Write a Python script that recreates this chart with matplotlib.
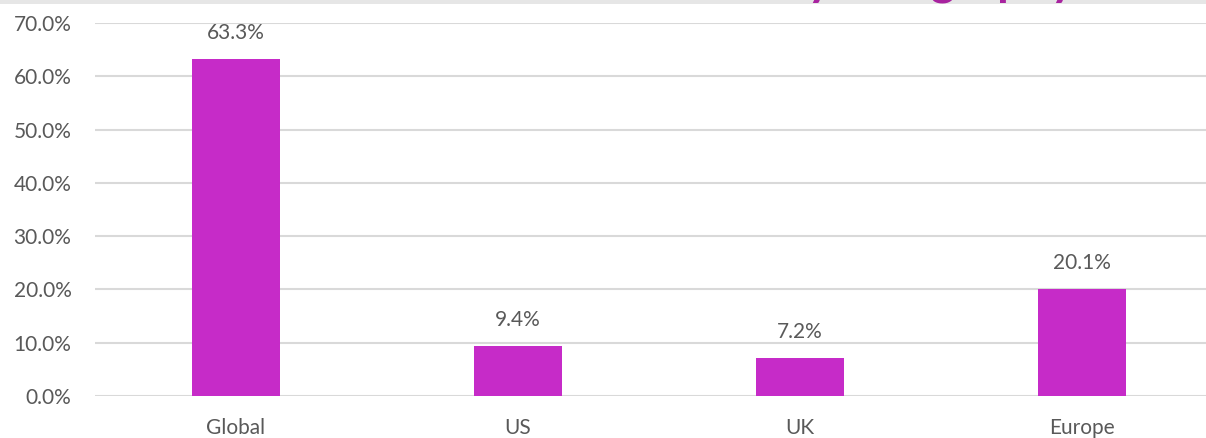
import matplotlib
matplotlib.use("Agg")
import matplotlib.pyplot as plt
from matplotlib.patches import Rectangle

categories = ["Global", "US", "UK", "Europe"]
values = [63.3, 9.4, 7.2, 20.1]
yticks = [0, 10, 20, 30, 40, 50, 60, 70]
title = "Allocation by Geography"

W, H = 1206, 438
fig = plt.figure(figsize=(W / 100, H / 100), dpi=100)
plt.rcParams['font.family'] = ['Lato', 'DejaVu Sans']

# top banner band with cropped title
fig.patches.append(Rectangle((0, 1 - 4 / H), 1, 4 / H, transform=fig.transFigure,
                             facecolor="#e6e6e6", edgecolor="none", zorder=0))
fig.text(1076 / W, 1 + 5.5 / H, title, ha="right", va="baseline", fontsize=34,
         color="#a8239f", fontweight="bold")

left, right = 95, 1223
bottom, top = 396, 23
ax = fig.add_axes([left / W, 1 - bottom / H, (right - left) / W, (bottom - top) / H])

bar_color = "#c62bc8"
x = range(len(categories))
bars = ax.bar(x, values, width=0.312, color=bar_color, zorder=3)

ax.set_xlim(-0.5, len(categories) - 0.5)
ax.set_ylim(0, 70)
ax.set_yticks(yticks)
ax.set_yticklabels([f"{v:.1f}%" for v in yticks])
ax.set_xticks(list(x))
ax.set_xticklabels(categories)

for s in ax.spines.values():
    s.set_visible(False)
ax.grid(axis="y", color="#d9d9d9", linewidth=1.5, zorder=0)
ax.set_axisbelow(True)
ax.tick_params(axis="both", length=0, labelsize=15, labelcolor="#595959")
ax.tick_params(axis="y", pad=17)
ax.tick_params(axis="x", pad=16)

for b, v in zip(bars, values):
    ax.annotate(f"{v:.1f}%", (b.get_x() + b.get_width() / 2, v),
                xytext=(0, 26), textcoords="offset pixels",
                ha="center", va="center", fontsize=15, color="#595959")

fig.savefig("out.png", dpi=100)
